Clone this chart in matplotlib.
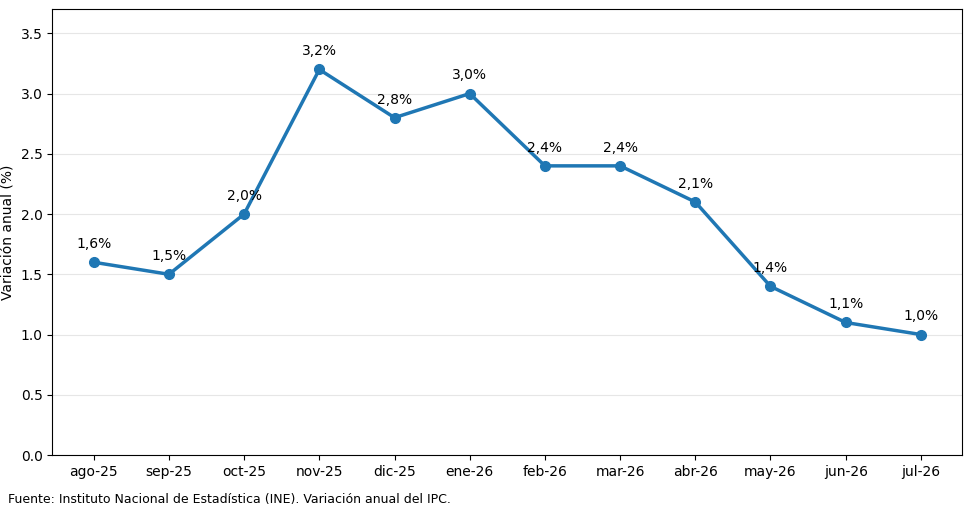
import matplotlib
matplotlib.use('Agg')
import matplotlib.pyplot as plt

plt.rcParams['font.family'] = ['DejaVu Sans']

months = ['ago-25', 'sep-25', 'oct-25', 'nov-25', 'dic-25', 'ene-26',
          'feb-26', 'mar-26', 'abr-26', 'may-26', 'jun-26', 'jul-26']
ipc = [1.6, 1.5, 2.0, 3.2, 2.8, 3.0, 2.4, 2.4, 2.1, 1.4, 1.1, 1.0]

fig = plt.figure(figsize=(9.7, 5.13), dpi=100)
ax = fig.add_axes([0.054, 0.113, 0.938, 0.869])

x = range(len(months))
ax.plot(x, ipc, color='#1f77b4', linewidth=2.5, marker='o', markersize=7)
for i, v in zip(x, ipc):
    ax.annotate(f"{v:.1f}%".replace('.', ','), (i, v), xytext=(0, 8),
                textcoords='offset points', ha='center', va='bottom', fontsize=10)

ax.set_xticks(list(x))
ax.set_xticklabels(months, fontsize=10)
ax.tick_params(axis='y', labelsize=10)
ax.set_ylim(0, 3.7)
ax.set_xlim(-0.55, 11.55)
ax.set_ylabel('Variación anual (%)', fontsize=10)
ax.grid(axis='y', color='#e6e6e6', linewidth=0.8)
ax.set_axisbelow(True)

fig.text(0.008, 0.014, 'Fuente: Instituto Nacional de Estadística (INE). Variación anual del IPC.',
         fontsize=9, ha='left', va='bottom')

fig.savefig('out.png', dpi=100)
